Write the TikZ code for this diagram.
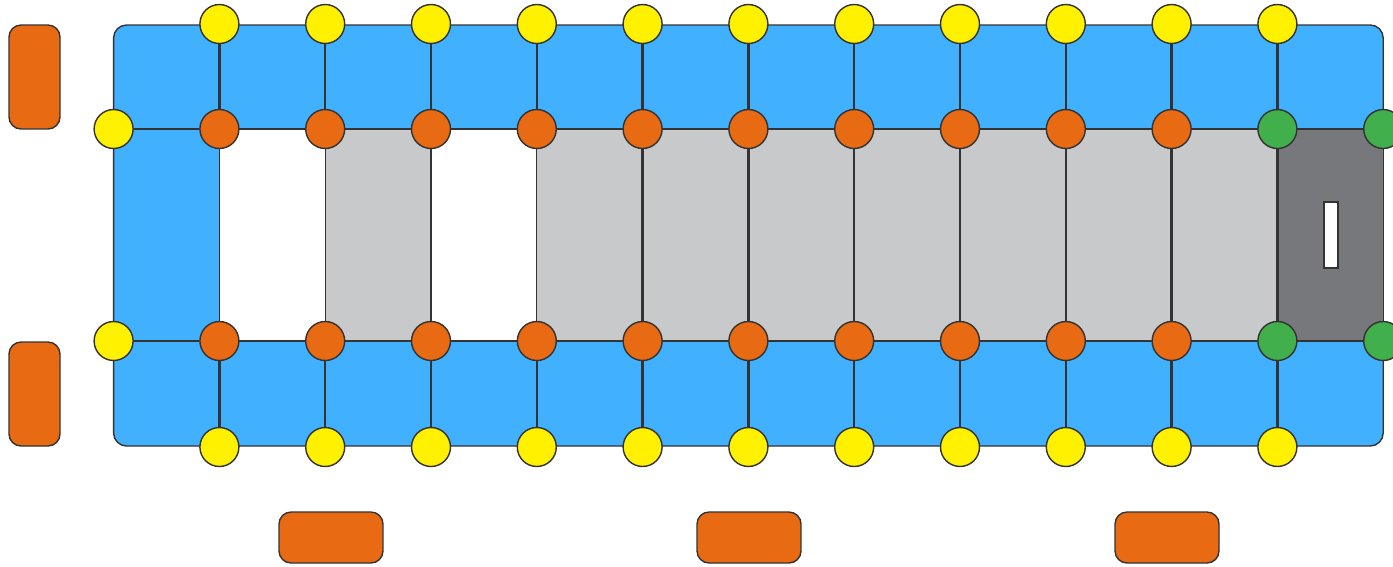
\documentclass[tikz,border=0pt]{standalone}
\definecolor{bandblue}{HTML}{40B0FF}
\definecolor{postorange}{HTML}{E86A12}
\definecolor{postyellow}{HTML}{FFF100}
\definecolor{postgreen}{HTML}{40AF4C}
\definecolor{celllight}{HTML}{C8C9CB}
\definecolor{celldark}{HTML}{77787C}
\definecolor{edgegray}{HTML}{333333}
\tikzset{
  post/.style={circle, draw=edgegray, line width=0.8pt, minimum size=0.78cm, inner sep=0pt},
  yellowpost/.style={post, fill=postyellow},
  orangepost/.style={post, fill=postorange},
  greenpost/.style={post, fill=postgreen},
  bar/.style={rectangle, rounded corners=0.24cm, draw=edgegray, line width=0.8pt, fill=postorange, inner sep=0pt},
  tie/.style={draw=edgegray, line width=1.4pt},
  cellline/.style={draw=edgegray, line width=0.6pt}
}
\begin{document}
\begin{tikzpicture}[x=0.02cm, y=-0.02cm]
    \useasboundingbox (0,0) rectangle (1393,566);
    % Blue band
    \draw[fill=bandblue, draw=edgegray, line width=0.8pt, rounded corners=0.26cm] (113.6,25) rectangle (1383.2,446);
    \fill[white] (219.4,129) rectangle (1383.2,341);

    % Cells
    \foreach \i in {1,3} \draw[cellline] ({113.6+\i*105.8},129) rectangle ({113.6+(\i+1)*105.8},341);
    \foreach \i in {2,4,5,...,10} \draw[cellline, fill=celllight] ({113.6+\i*105.8},129) rectangle ({113.6+(\i+1)*105.8},341);
    \draw[cellline, fill=celldark] ({113.6+11*105.8},129) rectangle ({113.6+12*105.8},341);
    \draw[cellline, fill=white] (1324,202) rectangle (1338,268);

    % Posts
    \foreach \i in {1,...,11} {
        \node[yellowpost] (t\i) at ({113.6+\i*105.8},24) {};
        \node[yellowpost] (u\i) at ({113.6+\i*105.8},447) {};
    }
    \node[yellowpost] (m0) at (113.6,129) {};
    \node[yellowpost] (b0) at (113.6,341) {};
    \foreach \i in {1,...,10} {
        \node[orangepost] (m\i) at ({113.6+\i*105.8},129) {};
        \node[orangepost] (b\i) at ({113.6+\i*105.8},341) {};
    }
    \foreach \i in {11,12} {
        \node[greenpost] (m\i) at ({113.6+\i*105.8},129) {};
        \node[greenpost] (b\i) at ({113.6+\i*105.8},341) {};
    }

    % Ties
    \foreach \i [count=\j from 0] in {1,...,12} {
        \draw[tie] (m\j) -- (m\i);
        \draw[tie] (b\j) -- (b\i);
    }
    \foreach \i in {1,...,11} {
        \draw[tie] (t\i) -- (m\i);
        \draw[tie] (b\i) -- (u\i);
    }
    \foreach \i in {5,...,11} \draw[tie] (m\i) -- (b\i);

    % Bars
    \node[bar, minimum width=1.02cm, minimum height=2.08cm] (lefttop) at (34.5,77) {};
    \node[bar, minimum width=1.02cm, minimum height=2.08cm] (leftbottom) at (34.5,394) {};
    \foreach \x/\name in {331/first, 749/second, 1167/third}
        \node[bar, minimum width=2.08cm, minimum height=1.02cm] (\name) at (\x,537.5) {};
\end{tikzpicture}
\end{document}
